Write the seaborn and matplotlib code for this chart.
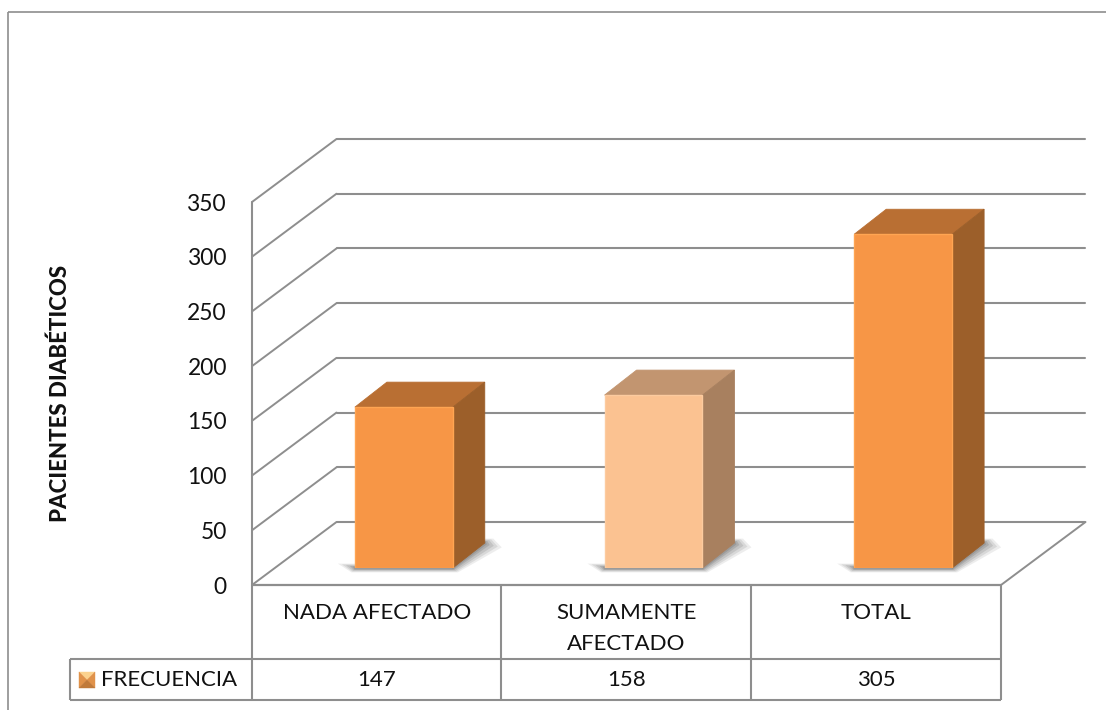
import matplotlib
matplotlib.use("Agg")
import matplotlib.pyplot as plt
import pandas as pd
import seaborn as sns
from matplotlib.patches import Polygon

categories = ["NADA AFECTADO", "SUMAMENTE AFECTADO", "TOTAL"]
category_labels = ["NADA AFECTADO", "SUMAMENTE\nAFECTADO", "TOTAL"]
values = [147, 158, 305]
series_name = "FRECUENCIA"
y_ticks = [0, 50, 100, 150, 200, 250, 300, 350]
y_label = "PACIENTES DIABÉTICOS"
front_colors = ["#F79646", "#FBC291", "#F79646"]
top_colors = ["#B96F33", "#C29570", "#B96F33"]
side_colors = ["#9C5F2A", "#A8805F", "#9C5F2A"]

sns.set_style("white")
plt.rcParams["font.family"] = ["Lato", "DejaVu Sans"]

W, H = 1106, 710
GRAY = "#8E8E8E"
FS = 16.0
fig = plt.figure(figsize=(W / 100, H / 100), dpi=100)


def box(x0, y0, x1, y1):
    return [x0 / W, 1 - y1 / H, (x1 - x0) / W, (y1 - y0) / H]


# pixel overlay for the frame and the data table
bg = fig.add_axes([0, 0, 1, 1], zorder=0)
bg.set_xlim(0, W)
bg.set_ylim(H, 0)
bg.axis("off")


def seg(x0, y0, x1, y1, lw=1.5, c=GRAY):
    bg.plot([x0, x1], [y0, y1], color=c, lw=lw, solid_capstyle="butt")


seg(8, 12, 8, 710, 1.2)
seg(8, 12, 1106, 12, 1.2)
seg(252, 585, 1001, 585, 1.6)
for x in (252, 501, 751, 1001):
    seg(x, 585, x, 700)
seg(70, 659, 1001, 659)
seg(70, 700, 1001, 700)
seg(70, 659, 70, 700)

# legend key
kx0, kx1, ky0, ky1 = 79, 95, 672, 688
cx, cy = (kx0 + kx1) / 2, (ky0 + ky1) / 2
for pts, col in [
    ([(kx0, ky0), (kx1, ky0), (cx, cy)], "#FBD28E"),
    ([(kx0, ky0), (kx0, ky1), (cx, cy)], "#E0924A"),
    ([(kx1, ky0), (kx1, ky1), (cx, cy)], "#E0924A"),
    ([(kx0, ky1), (kx1, ky1), (cx, cy)], "#C07A3A"),
]:
    bg.add_patch(Polygon(pts, closed=True, fc=col, ec=col, lw=0.3))
bg.text(101, 679.5, series_name, fontsize=FS, ha="left", va="center", color="#111111")

# main axes: scale, walls, floor
ax = fig.add_axes(box(252, 202, 1001, 585), zorder=1)
ax.patch.set_alpha(0)
ax.set_xlim(-0.5, 2.5)
ax.set_ylim(0, 350)
sns.despine(ax=ax, left=True, bottom=True, top=True, right=True)
ux = 3 / 749
uy = 350 / 383
wall_dx, wall_dy = 84.5 * ux, 63 * uy
for v in y_ticks:
    ax.plot([-0.5, -0.5 + wall_dx], [v, v + wall_dy], color=GRAY, lw=1.4, clip_on=False)
    ax.plot([-0.5 + wall_dx, 2.5 + wall_dx], [v + wall_dy] * 2, color=GRAY, lw=1.5, clip_on=False)
ax.plot([2.5, 2.5 + wall_dx], [0, wall_dy], color=GRAY, lw=1.4, clip_on=False)
ax.plot([-0.5, -0.5], [0, 350], color=GRAY, lw=1.5, clip_on=False)
ax.set_yticks(y_ticks)
ax.set_yticklabels([str(v) for v in y_ticks], fontsize=FS + 0.4, color="#111111")
ax.set_xticks(range(len(categories)))
ax.set_xticklabels(category_labels, fontsize=FS, color="#111111", linespacing=1.68, va="top")
ax.tick_params(axis="y", length=0, pad=18)
ax.tick_params(axis="x", length=0, pad=13)
for i, v in enumerate(values):
    bg.text(ax.transData.transform((i, 0))[0], 679.5, str(v), fontsize=FS,
            ha="center", va="center", color="#111111")
fig.text(60 / W, 1 - 393 / H, y_label, rotation=90, fontsize=16, fontweight="black",
         ha="center", va="center", color="#111111")

# bars, set forward on the floor
bars = fig.add_axes(box(279, 185, 1028, 568), zorder=2)
bars.patch.set_alpha(0)
df = pd.DataFrame({"categoria": categories, "valor": values})
sns.barplot(data=df, x="categoria", y="valor", hue="categoria", palette=front_colors,
            width=0.392, legend=False, ax=bars, saturation=1, zorder=5)
bars.set_xlim(-0.5, 2.5)
bars.set_ylim(0, 350)
bars.axis("off")
dx, dy = 32 * ux, 25 * uy
for p, top, side, front in zip(bars.patches, top_colors, side_colors, front_colors):
    x0, w, h = p.get_x(), p.get_width(), p.get_height()
    x1 = x0 + w
    # soft floor shadow
    for k, a in zip((17, 13, 9, 5, 2), (0.12, 0.16, 0.2, 0.25, 0.3)):
        e = k * ux
        f = (k * 0.2 + 1) * uy
        bars.add_patch(Polygon(
            [(x0 - e, f), (x0 - e * 0.2, -f), (x1 + e * 0.3, -f), (x1 + dx + e, dy - f),
             (x1 + dx + e * 0.5, dy + f), (x1 + dx - 1 * ux, dy + f), (x0, f)],
            closed=True, fc="#6F6F6F", ec="none", alpha=a, zorder=1, clip_on=False))
    p.set_edgecolor("#FFA552" if front == "#F79646" else "#FCCB9F")
    p.set_linewidth(1.0)
    p.set_zorder(5)
    bars.add_patch(Polygon([(x0, h), (x1, h), (x1 + dx, h + dy), (x0 + dx, h + dy)],
                           closed=True, fc=top, ec=top, lw=0.6, zorder=4, clip_on=False))
    bars.add_patch(Polygon([(x1, 0), (x1 + dx, dy), (x1 + dx, h + dy), (x1, h)],
                           closed=True, fc=side, ec=side, lw=0.6, zorder=4, clip_on=False))

fig.savefig("out.png", dpi=100, facecolor="white")
